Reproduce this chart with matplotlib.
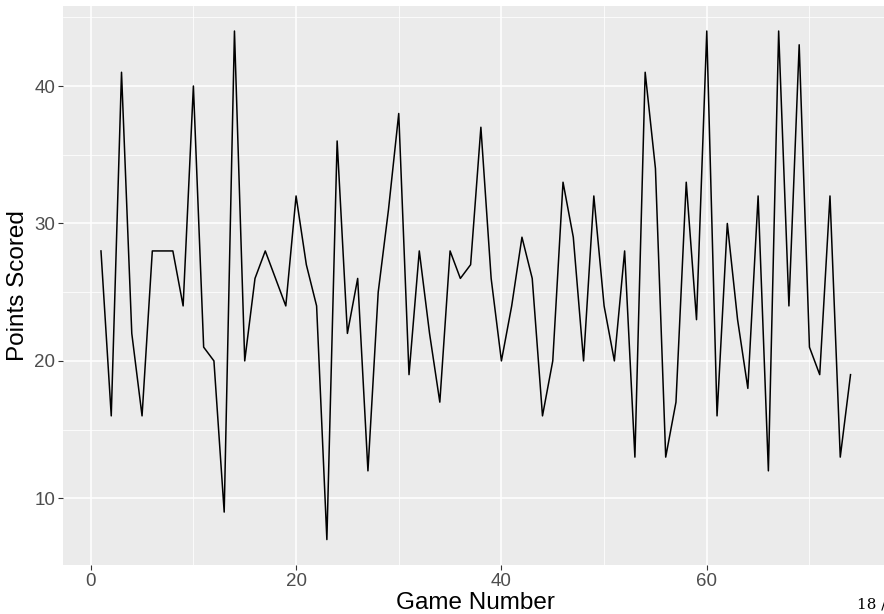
import matplotlib
matplotlib.use("Agg")
import matplotlib.pyplot as plt
import numpy as np

plt.rcParams['font.family'] = ['Liberation Sans', 'DejaVu Sans']

games = np.arange(1, 75)
points = [28, 16, 41, 22, 16, 28, 28, 28, 24, 40,
          21, 20, 9, 44, 20, 26, 28, 26, 24, 32,
          27, 24, 7, 36, 22, 26, 12, 25, 31, 38,
          19, 28, 22, 17, 28, 26, 27, 37, 26, 20,
          24, 29, 26, 16, 20, 33, 29, 20, 32, 24,
          20, 28, 13, 41, 34, 13, 17, 33, 23, 44,
          16, 30, 23, 18, 32, 12, 44, 24, 43, 21,
          19, 32, 13, 19]

x_major = [0, 20, 40, 60]
x_minor = [10, 30, 50, 70]
y_major = [10, 20, 30, 40]
y_minor = [15, 25, 35, 45]

fig = plt.figure(figsize=(8.84, 6.14), dpi=100)
W, H = 884, 614
left, right, top, bottom = 63.5, 888, 5.6, 565
ax = fig.add_axes([left / W, 1 - bottom / H, (right - left) / W, (bottom - top) / H])

ax.set_facecolor('#EBEBEB')
for s in ax.spines.values():
    s.set_visible(False)

for v in x_minor:
    ax.axvline(v, color='white', lw=0.55, zorder=0)
for v in y_minor:
    ax.axhline(v, color='white', lw=0.55, zorder=0)
for v in x_major:
    ax.axvline(v, color='white', lw=1.1, zorder=0)
for v in y_major:
    ax.axhline(v, color='white', lw=1.1, zorder=0)

ax.plot(games, points, color='black', lw=1.1, zorder=2)

xr = games.max() - games.min()
yr = max(points) - min(points)
ax.set_xlim(games.min() - 0.05 * xr, games.max() + 0.05 * xr)
ax.set_ylim(min(points) - 0.05 * yr, max(points) + 0.05 * yr)

ax.set_xticks(x_major)
ax.set_yticks(y_major)
ax.tick_params(axis='both', length=3.5, width=0.8, color='#333333',
               labelcolor='#4D4D4D', labelsize=13.5, pad=2.5)

ax.set_xlabel('Game Number', fontsize=17.5, color='black', labelpad=1)
ax.set_ylabel('Points Scored', fontsize=17.5, color='black', labelpad=4)

fig.text(857 / W, 1 - 608 / H, '18 /', family=['DejaVu Serif'],
         fontsize=11, ha='left', va='baseline')

fig.savefig('out.png', dpi=100)
